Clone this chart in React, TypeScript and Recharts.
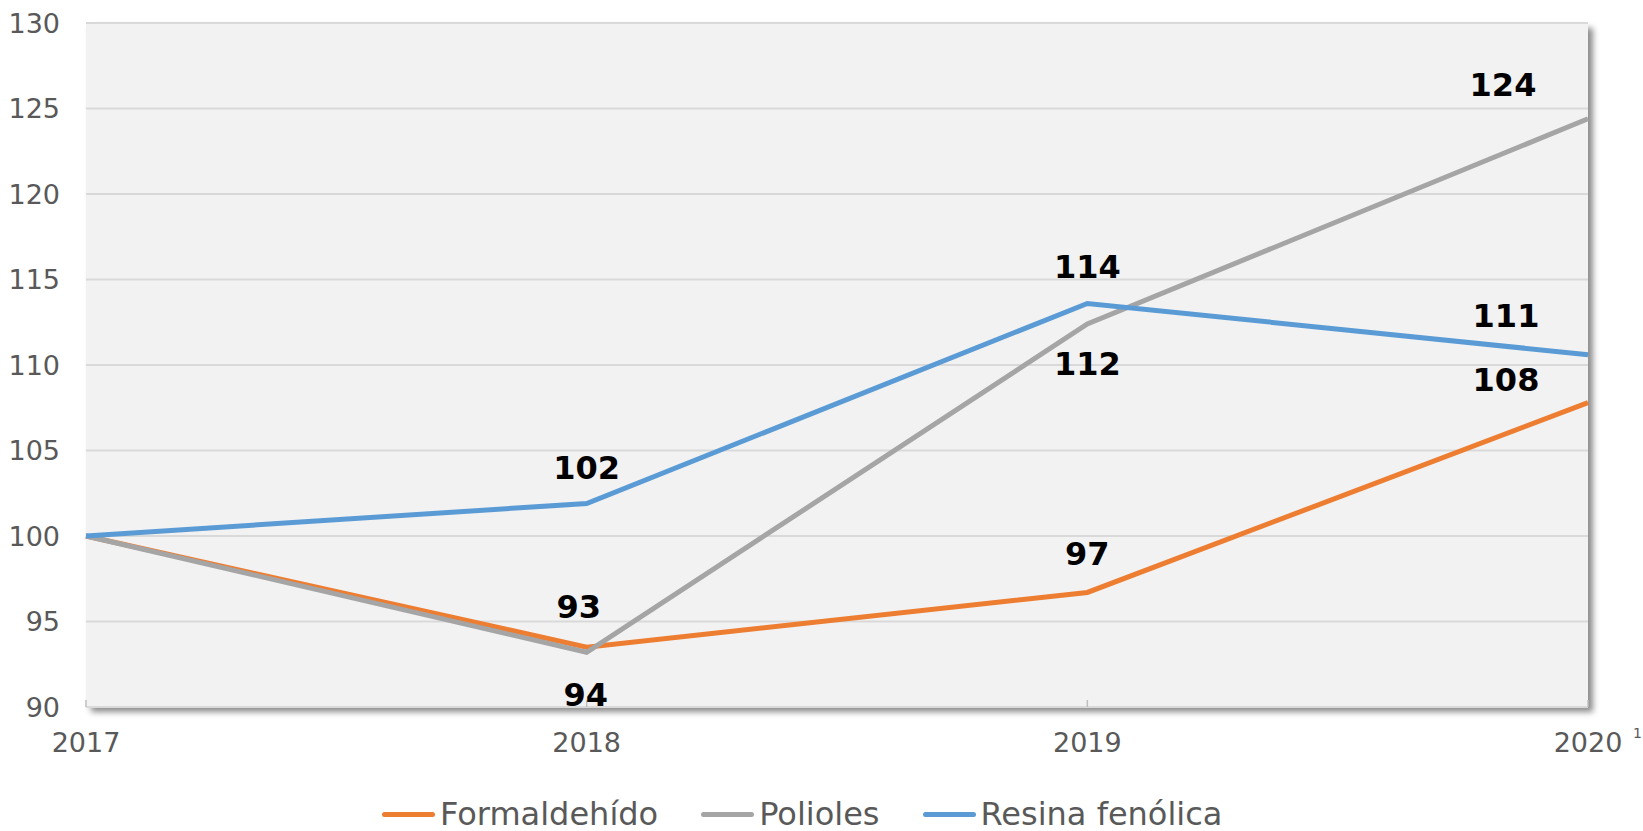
import React from 'react';
import { LineChart, Line, XAxis, YAxis, CartesianGrid, Legend } from 'recharts';

if (typeof document !== 'undefined') document.body.style.margin = '0';

const years = ['2017', '2018', '2019', '2020'];
const yearNotes: Record<string, string> = { '2020': '1' };
const formaldehido = [100, 93.5, 96.7, 107.8];
const polioles = [100, 93.2, 112.4, 124.4];
const resinaFenolica = [100, 101.9, 113.6, 110.6];
const yTicks = [90, 95, 100, 105, 110, 115, 120, 125, 130];

// where each data label sits relative to its point (dx, dy); null = no label
type Offset = [number, number] | null;
const formaldehidoLabels: Offset[] = [null, [-1, 48], [0, -38], [-82, -23]];
const poliolesLabels: Offset[] = [null, [-8, -45], [0, 40], [-85, -34]];
const resinaLabels: Offset[] = [null, [0, -36], [0, -36], [-82, -39]];

const series = [
  { key: 'formaldehido', name: 'Formaldehído', color: '#ED7D31', values: formaldehido, labels: formaldehidoLabels },
  { key: 'polioles', name: 'Polioles', color: '#A5A5A5', values: polioles, labels: poliolesLabels },
  { key: 'resina', name: 'Resina fenólica', color: '#5B9BD5', values: resinaFenolica, labels: resinaLabels },
];

const data = years.map((year, i) => {
  const row: Record<string, string | number> = { year };
  series.forEach((s) => {
    row[s.key] = s.values[i];
  });
  return row;
});

const W = 1643;
const H = 831;
const margin = { top: 23, right: 55, left: 0, bottom: 64 };
const yAxisWidth = 86;
const xAxisHeight = 60;
const plot = {
  left: margin.left + yAxisWidth,
  top: margin.top,
  width: W - margin.left - yAxisWidth - margin.right,
  height: H - margin.top - margin.bottom - xAxisHeight,
};

const font = 'DejaVu Sans, Verdana, sans-serif';

function YearTick(props: any) {
  const { x, y, payload } = props;
  const note = yearNotes[payload.value];
  return (
    <g>
      <text x={x} y={y} dy="0.71em" textAnchor="middle" fill="#595959" fontSize={27} fontFamily={font}>
        {payload.value}
      </text>
      {note && (
        <text x={x + 45} y={y + 5} fill="#595959" fontSize={14} fontFamily={font}>
          {note}
        </text>
      )}
    </g>
  );
}

function makeLabel(offsets: Offset[]) {
  return (props: any) => {
    const { x, y, value, index } = props;
    const off = offsets[index];
    if (!off || x == null || y == null) return <g key={index} />;
    return (
      <text
        key={index}
        x={x + off[0]}
        y={y + off[1]}
        textAnchor="middle"
        dominantBaseline="central"
        fontFamily={font}
        fontWeight="bold"
        fontSize={32}
        fill="#000"
      >
        {Math.round(value)}
      </text>
    );
  };
}

const renderLegend = () => (
  <div
    style={{
      display: 'flex',
      alignItems: 'center',
      fontFamily: font,
      fontSize: 32,
      lineHeight: '32px',
      color: '#595959',
      whiteSpace: 'nowrap',
    }}
  >
    {series.map((s, i) => (
      <div key={s.key} style={{ display: 'flex', alignItems: 'center', marginLeft: i ? 43 : 0 }}>
        <span
          style={{ display: 'inline-block', width: 53, height: 5, background: s.color, borderRadius: 3, marginRight: 5 }}
        />
        <span>{s.name}</span>
      </div>
    ))}
  </div>
);

export default function App() {
  return (
    <div style={{ position: 'relative', width: W, height: H, background: '#fff' }}>
      <div
        style={{
          position: 'absolute',
          left: plot.left,
          top: plot.top,
          width: plot.width,
          height: plot.height,
          background: '#f2f2f2',
          boxShadow: '5px 5px 6px rgba(0,0,0,0.45)',
        }}
      />
      <div style={{ position: 'absolute', left: 0, top: 0 }}>
        <LineChart width={W} height={H} data={data} margin={margin}>
          <CartesianGrid vertical={false} stroke="#d9d9d9" strokeWidth={2} fill="#f2f2f2" />
          <XAxis
            dataKey="year"
            height={xAxisHeight}
            interval={0}
            axisLine={{ stroke: '#d9d9d9', strokeWidth: 2 }}
            tickLine={{ stroke: '#bfbfbf', strokeWidth: 1.5 }}
            tickSize={-7}
            tickMargin={33}
            tick={<YearTick />}
          />
          <YAxis
            width={yAxisWidth}
            domain={[90, 130]}
            ticks={yTicks}
            axisLine={false}
            tickLine={false}
            tickSize={0}
            tickMargin={26}
            tick={{ fill: '#595959', fontSize: 27, fontFamily: font }}
          />
          <Legend
            verticalAlign="middle"
            align="center"
            layout="horizontal"
            wrapperStyle={{ left: 382, top: 798, width: 'auto' }}
            content={renderLegend}
          />
          {series.map((s) => (
            <Line
              key={s.key}
              type="linear"
              dataKey={s.key}
              name={s.name}
              stroke={s.color}
              strokeWidth={5}
              dot={false}
              activeDot={false}
              isAnimationActive={false}
              label={makeLabel(s.labels)}
            />
          ))}
        </LineChart>
      </div>
    </div>
  );
}
